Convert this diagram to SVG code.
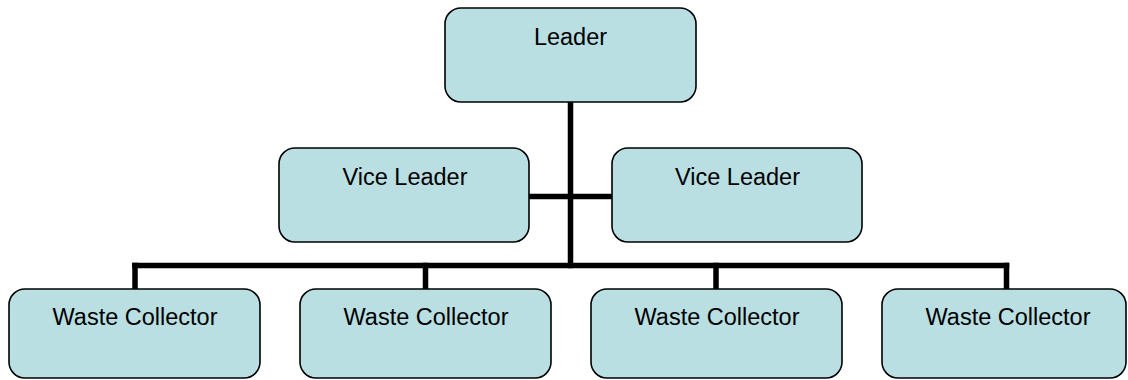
<svg xmlns="http://www.w3.org/2000/svg" width="1128" height="380" viewBox="0 0 1128 380">
<style>
.box{fill:#B9DFE3;stroke:#000;stroke-width:1.6}
.lbl{font-family:"Liberation Sans",Arial,sans-serif;font-size:23.5px;fill:#000;text-anchor:middle}
.con{stroke:#000;stroke-width:5.5;fill:none;stroke-linecap:square}
</style>
<rect width="1128" height="380" fill="#fff"/>
<g id="connectors">
<line class="con" x1="570.5" y1="103" x2="570.5" y2="265.5"/>
<line class="con" x1="529" y1="196.5" x2="612" y2="196.5"/>
<line class="con" x1="135" y1="265.5" x2="1006.5" y2="265.5"/>
<line class="con" x1="135" y1="265.5" x2="135" y2="288"/>
<line class="con" x1="425.5" y1="265.5" x2="425.5" y2="288"/>
<line class="con" x1="716" y1="265.5" x2="716" y2="288"/>
<line class="con" x1="1006.5" y1="265.5" x2="1006.5" y2="288"/>
</g>
<g id="leader">
<rect class="box" x="445" y="8" width="251" height="94" rx="16"/>
<text class="lbl" x="570.5" y="45">Leader</text>
</g>
<g id="vice-leader-1">
<rect class="box" x="279" y="148" width="250" height="94" rx="16"/>
<text class="lbl" x="405" y="185">Vice Leader</text>
</g>
<g id="vice-leader-2">
<rect class="box" x="612" y="148" width="250" height="94" rx="16"/>
<text class="lbl" x="737.5" y="185">Vice Leader</text>
</g>
<g id="waste-collector-1">
<rect class="box" x="9" y="289" width="251" height="89" rx="16"/>
<text class="lbl" x="135" y="325">Waste Collector</text>
</g>
<g id="waste-collector-2">
<rect class="box" x="300" y="289" width="251" height="89" rx="16"/>
<text class="lbl" x="426" y="325">Waste Collector</text>
</g>
<g id="waste-collector-3">
<rect class="box" x="591" y="289" width="251" height="89" rx="16"/>
<text class="lbl" x="717" y="325">Waste Collector</text>
</g>
<g id="waste-collector-4">
<rect class="box" x="882" y="289" width="244" height="89" rx="16"/>
<text class="lbl" x="1008" y="325">Waste Collector</text>
</g>
</svg>
